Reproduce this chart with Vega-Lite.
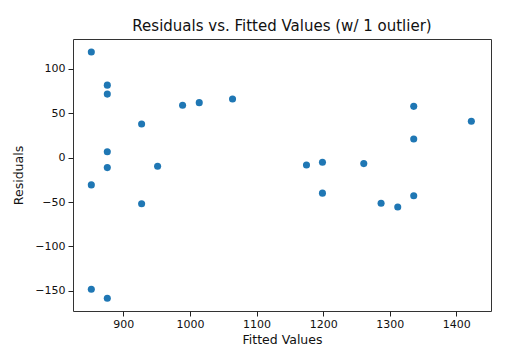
{
  "$schema": "https://vega.github.io/schema/vega-lite/v6.json",
  "autosize": {"type": "none"},
  "width": 418,
  "height": 272,
  "padding": {"left": 73, "top": 39, "right": 21, "bottom": 45},
  "background": "white",
  "title": {"text": "Residuals vs. Fitted Values (w/ 1 outlier)", "font": "DejaVu Sans", "fontSize": 15, "fontWeight": "normal", "color": "#111", "offset": 5},
  "data": {"values": [
    {"fitted": 852, "resid": 119},
    {"fitted": 876, "resid": 81.7},
    {"fitted": 876, "resid": 71.6},
    {"fitted": 876, "resid": 6.7},
    {"fitted": 876, "resid": -11.2},
    {"fitted": 852, "resid": -30.7},
    {"fitted": 927.5, "resid": 37.9},
    {"fitted": 951.5, "resid": -9.7},
    {"fitted": 927.5, "resid": -52},
    {"fitted": 989, "resid": 59},
    {"fitted": 1014, "resid": 62},
    {"fitted": 1064, "resid": 66},
    {"fitted": 852, "resid": -148.3},
    {"fitted": 876, "resid": -158.4},
    {"fitted": 1175, "resid": -8.2},
    {"fitted": 1199, "resid": -5.2},
    {"fitted": 1261, "resid": -6.7},
    {"fitted": 1336, "resid": 21},
    {"fitted": 1199, "resid": -40},
    {"fitted": 1287, "resid": -51.3},
    {"fitted": 1312, "resid": -55.7},
    {"fitted": 1336, "resid": -43},
    {"fitted": 1336, "resid": 57.8},
    {"fitted": 1422.5, "resid": 41}
  ]},
  "mark": {"type": "point", "filled": true, "opacity": 1, "color": "#1f77b4", "size": 50},
  "encoding": {
    "x": {"field": "fitted", "type": "quantitative", "title": "Fitted Values",
      "scale": {"domain": [824.5, 1452], "nice": false, "zero": false},
      "axis": {"values": [900, 1000, 1100, 1200, 1300, 1400], "format": "d", "grid": false, "domain": false, "tickSize": 5, "tickColor": "#222", "labelPadding": 2, "titlePadding": 4}},
    "y": {"field": "resid", "type": "quantitative", "title": "Residuals",
      "scale": {"domain": [-172.8, 133.7], "nice": false, "zero": false},
      "axis": {"values": [-150, -100, -50, 0, 50, 100], "format": "d", "grid": false, "domain": false, "tickSize": 5, "tickColor": "#222", "labelPadding": 3, "titlePadding": 9}}
  },
  "config": {
    "view": {"stroke": "#333", "strokeWidth": 1},
    "axis": {"labelFont": "DejaVu Sans", "titleFont": "DejaVu Sans", "labelFontSize": 11, "titleFontSize": 12.5, "titleFontWeight": "normal", "labelColor": "#111", "titleColor": "#111"}
  }
}
